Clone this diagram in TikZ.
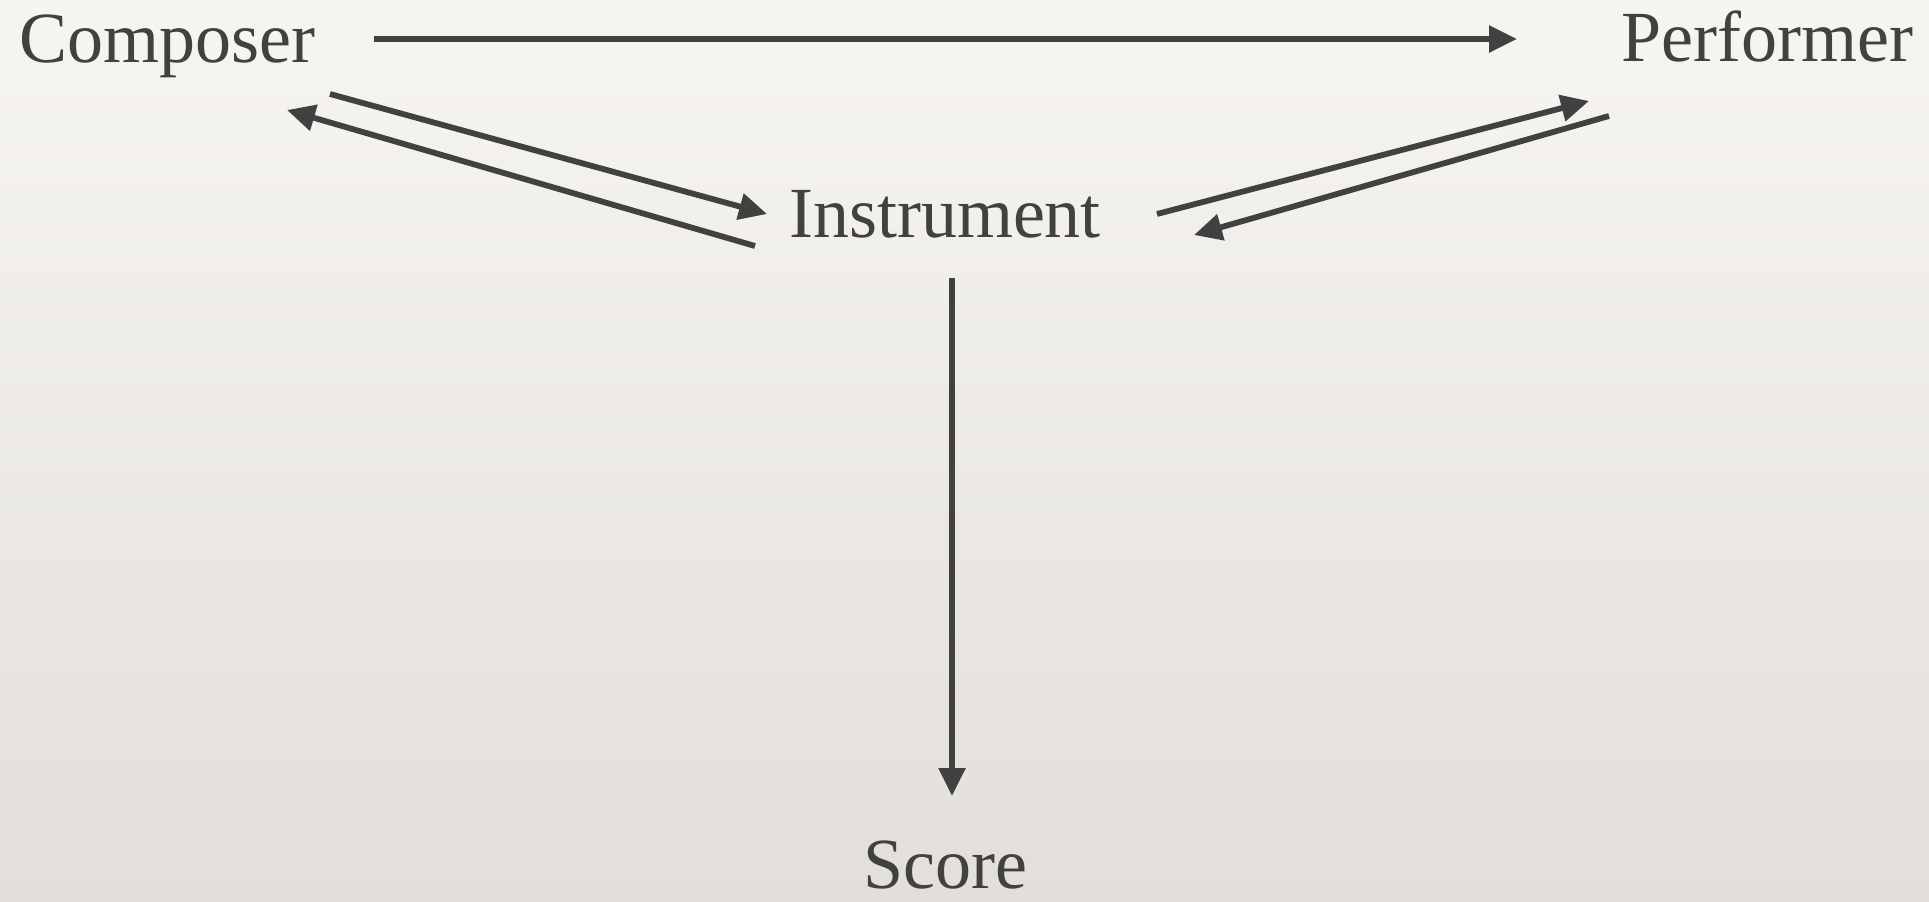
\documentclass[tikz,border=0pt]{standalone}
\usepackage{fontspec}
\setmainfont{Liberation Serif}
\usetikzlibrary{arrows.meta}
\definecolor{ink}{HTML}{414141}
\definecolor{bgtop}{HTML}{F7F5F0}
\definecolor{bgbot}{HTML}{E2DFDA}
\tikzset{
  lbl/.style={inner sep=0pt, text=ink, font=\fontsize{36pt}{40pt}\selectfont},
  arr/.style={draw=ink, line width=2.9pt, -{Triangle[length=14pt,width=13pt]}}
}
\begin{document}
\begin{tikzpicture}[x=0.5pt,y=-0.5pt]
\shade[top color=bgtop, bottom color=bgbot] (0,0) rectangle (1929,901);
\useasboundingbox (0,0) rectangle (1929,901);
\node[lbl, anchor=base west] (comp) at (19,62) {Composer};
\node[lbl, anchor=base east] (perf) at (1914,61) {Performer};
\node[lbl, anchor=base] (inst) at (945,237) {Instrument};
\node[lbl, anchor=base] (score) at (945,888) {Score};
\draw[arr] ([shift={(355,-23)}]comp.base west) -- ([shift={(-397,-22)}]perf.base east);
\draw[arr] ([shift={(311,32)}]comp.base west) -- ([shift={(-178,-23)}]inst.base);
\draw[arr] ([shift={(-190,9)}]inst.base) -- ([shift={(268,48)}]comp.base west);
\draw[arr] ([shift={(212,-23)}]inst.base) -- ([shift={(-325,40)}]perf.base east);
\draw[arr] ([shift={(-305,55)}]perf.base east) -- ([shift={(249,-2)}]inst.base);
\draw[arr] ([shift={(7,41)}]inst.base) -- ([shift={(7,-92)}]score.base);
\end{tikzpicture}
\end{document}
